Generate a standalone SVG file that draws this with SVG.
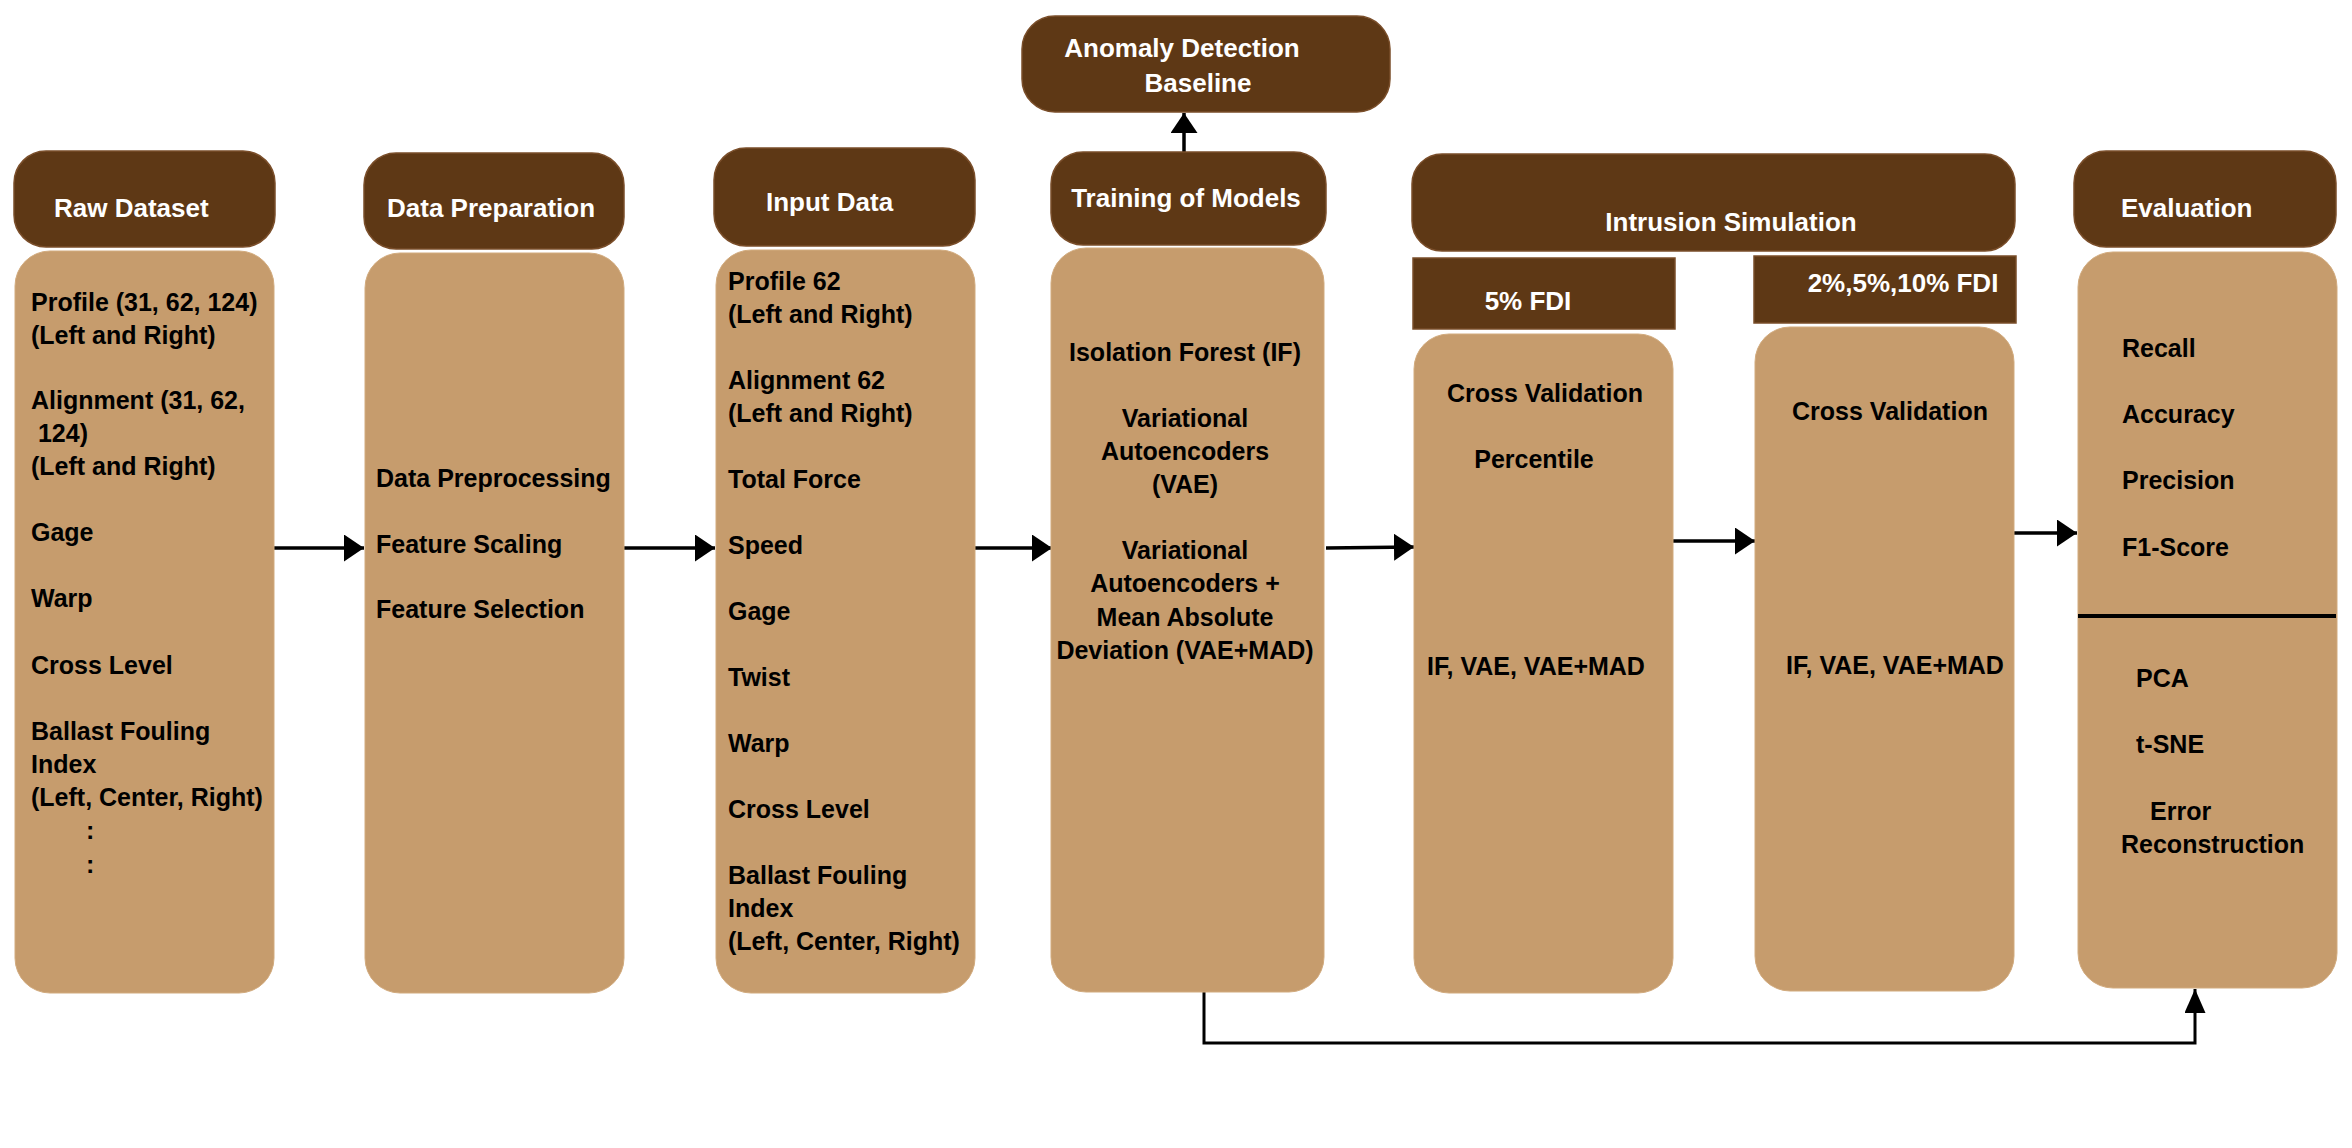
<svg xmlns="http://www.w3.org/2000/svg" width="2352" height="1148" viewBox="0 0 2352 1148">
<defs>
<style>
.hd{fill:#5E3815;stroke:#7A4E2A;stroke-width:1.5}
.bd{fill:#C69C6D;stroke:#D2AB7E;stroke-width:1}
.ht{font-family:"Liberation Sans",Arial,sans-serif;font-weight:bold;font-size:26px;fill:#FFFFFF}
.bt{font-family:"Liberation Sans",Arial,sans-serif;font-weight:bold;font-size:25px;fill:#000000}
.c{text-anchor:middle}
.ln{fill:none;stroke:#000000;stroke-width:3.5}
.ln2{fill:none;stroke:#000000;stroke-width:3}
</style>
<marker id="ah" markerUnits="userSpaceOnUse" markerWidth="21" markerHeight="28" refX="20" refY="13.5" orient="auto">
<path d="M0,0 L20,13.5 L0,27 z" fill="#000000"/>
</marker>
<marker id="ah2" markerUnits="userSpaceOnUse" markerWidth="25" markerHeight="22" refX="24" refY="10.5" orient="auto">
<path d="M0,0 L24,10.5 L0,21 z" fill="#000000"/>
</marker>
</defs>
<rect width="2352" height="1148" fill="#FFFFFF"/>

<g id="connectors">
<path class="ln" d="M274,548 H364" marker-end="url(#ah)"/>
<path class="ln" d="M624,548 H715" marker-end="url(#ah)"/>
<path class="ln" d="M975,548 H1052" marker-end="url(#ah)"/>
<path class="ln" d="M1326,548 L1414,547" marker-end="url(#ah)"/>
<path class="ln" d="M1673,541 H1755" marker-end="url(#ah)"/>
<path class="ln" d="M2014,533 H2077" marker-end="url(#ah)"/>
<path class="ln" d="M1184,152 V113" marker-end="url(#ah)"/>
<path class="ln2" d="M1204,992 V1043 H2195 V989" marker-end="url(#ah2)"/>
</g>

<g id="raw-dataset">
<rect class="hd" x="14" y="151" width="261" height="96" rx="32"/>
<text class="ht" x="54" y="217">Raw Dataset</text>
<rect class="bd" x="15" y="251" width="259" height="742" rx="35"/>
<text class="bt" x="31" y="311">Profile (31, 62, 124)</text>
<text class="bt" x="31" y="344">(Left and Right)</text>
<text class="bt" x="31" y="409">Alignment (31, 62,</text>
<text class="bt" x="31" y="442" xml:space="preserve"> 124)</text>
<text class="bt" x="31" y="475">(Left and Right)</text>
<text class="bt" x="31" y="541">Gage</text>
<text class="bt" x="31" y="607">Warp</text>
<text class="bt" x="31" y="674">Cross Level</text>
<text class="bt" x="31" y="740">Ballast Fouling</text>
<text class="bt" x="31" y="773">Index</text>
<text class="bt" x="31" y="806">(Left, Center, Right)</text>
<text class="bt" x="86" y="839">:</text>
<text class="bt" x="86" y="873">:</text>
</g>

<g id="data-preparation">
<rect class="hd" x="364" y="153" width="260" height="96" rx="32"/>
<text class="ht" x="387" y="217">Data Preparation</text>
<rect class="bd" x="365" y="253" width="259" height="740" rx="35"/>
<text class="bt" x="376" y="487">Data Preprocessing</text>
<text class="bt" x="376" y="553">Feature Scaling</text>
<text class="bt" x="376" y="618">Feature Selection</text>
</g>

<g id="input-data">
<rect class="hd" x="714" y="148" width="261" height="98" rx="32"/>
<text class="ht" x="766" y="211">Input Data</text>
<rect class="bd" x="716" y="250" width="259" height="743" rx="35"/>
<text class="bt" x="728" y="290">Profile 62</text>
<text class="bt" x="728" y="323">(Left and Right)</text>
<text class="bt" x="728" y="389">Alignment 62</text>
<text class="bt" x="728" y="422">(Left and Right)</text>
<text class="bt" x="728" y="488">Total Force</text>
<text class="bt" x="728" y="554">Speed</text>
<text class="bt" x="728" y="620">Gage</text>
<text class="bt" x="728" y="686">Twist</text>
<text class="bt" x="728" y="752">Warp</text>
<text class="bt" x="728" y="818">Cross Level</text>
<text class="bt" x="728" y="884">Ballast Fouling</text>
<text class="bt" x="728" y="917">Index</text>
<text class="bt" x="728" y="950">(Left, Center, Right)</text>
</g>

<g id="anomaly-detection-baseline">
<rect class="hd" x="1022" y="16" width="368" height="96" rx="33"/>
<text class="ht c" x="1182" y="57">Anomaly Detection</text>
<text class="ht c" x="1198" y="92">Baseline</text>
</g>

<g id="training-of-models">
<rect class="hd" x="1051" y="152" width="275" height="93" rx="32"/>
<text class="ht c" x="1186" y="207">Training of Models</text>
<rect class="bd" x="1051" y="248" width="273" height="744" rx="35"/>
<text class="bt c" x="1185" y="361">Isolation Forest (IF)</text>
<text class="bt c" x="1185" y="427">Variational</text>
<text class="bt c" x="1185" y="460">Autoencoders</text>
<text class="bt c" x="1185" y="493">(VAE)</text>
<text class="bt c" x="1185" y="559">Variational</text>
<text class="bt c" x="1185" y="592">Autoencoders +</text>
<text class="bt c" x="1185" y="626">Mean Absolute</text>
<text class="bt c" x="1185" y="659">Deviation (VAE+MAD)</text>
</g>

<g id="intrusion-simulation">
<rect class="hd" x="1412" y="154" width="603" height="97" rx="30"/>
<text class="ht c" x="1731" y="231">Intrusion Simulation</text>
</g>

<g id="fdi-5">
<rect class="hd" x="1413" y="258" width="262" height="71" stroke="none"/>
<text class="ht c" x="1528" y="310">5% FDI</text>
<rect class="bd" x="1414" y="334" width="259" height="659" rx="35"/>
<text class="bt c" x="1545" y="402">Cross Validation</text>
<text class="bt c" x="1534" y="468">Percentile</text>
<text class="bt c" x="1536" y="675">IF, VAE, VAE+MAD</text>
</g>

<g id="fdi-2-5-10">
<rect class="hd" x="1754" y="256" width="262" height="67" stroke="none"/>
<text class="ht c" x="1903" y="292">2%,5%,10% FDI</text>
<rect class="bd" x="1755" y="327" width="259" height="664" rx="35"/>
<text class="bt c" x="1890" y="420">Cross Validation</text>
<text class="bt c" x="1895" y="674">IF, VAE, VAE+MAD</text>
</g>

<g id="evaluation">
<rect class="hd" x="2074" y="151" width="262" height="96" rx="32"/>
<text class="ht" x="2121" y="217">Evaluation</text>
<rect class="bd" x="2078" y="252" width="259" height="736" rx="35"/>
<text class="bt" x="2122" y="357">Recall</text>
<text class="bt" x="2122" y="423">Accuracy</text>
<text class="bt" x="2122" y="489">Precision</text>
<text class="bt" x="2122" y="556">F1-Score</text>
<line x1="2078" y1="616" x2="2336" y2="616" stroke="#000000" stroke-width="4"/>
<text class="bt" x="2136" y="687">PCA</text>
<text class="bt" x="2136" y="753">t-SNE</text>
<text class="bt" x="2150" y="820">Error</text>
<text class="bt" x="2121" y="853">Reconstruction</text>
</g>
</svg>
